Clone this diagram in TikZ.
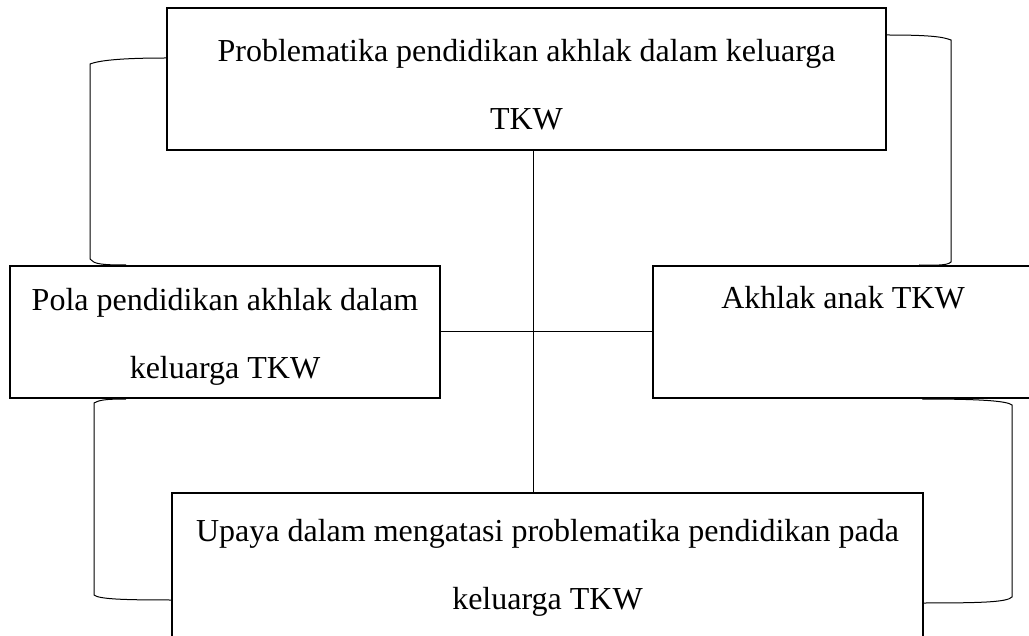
\documentclass[tikz,border=0pt]{standalone}
\usepackage{fontspec}
\setmainfont{Liberation Serif}
\newcommand{\naik}[1]{\rule{0pt}{#1}}
\tikzset{
    kotak/.style={draw,line width=2pt,align=center,inner sep=0pt,font=\fontsize{32}{68}\selectfont},
    kurung/.style={line width=1pt},
}
\begin{document}
\begin{tikzpicture}[x=1pt,y=-1pt]
        \useasboundingbox (0,0) rectangle (1029,636);
        \node[kotak,minimum width=719pt,minimum height=142pt] (T) at (526.5,79) {\naik{33pt}Problematika pendidikan akhlak dalam keluarga\\TKW};
        \node[kotak,minimum width=430pt,minimum height=132pt] (L) at (225,332) {\naik{32pt}Pola pendidikan akhlak dalam\\keluarga TKW};
        \node[kotak,minimum width=380pt,minimum height=132pt] (R) at (843,332) {\naik{42pt}Akhlak anak TKW\\\strut};
        \node[kotak,minimum width=751pt,minimum height=150pt] (B) at (547.5,568) {Upaya dalam mengatasi problematika pendidikan pada\\keluarga TKW};
        \coordinate (M) at (533,330);
        \draw[kurung] (T.south -| M)--(B.north -| M);
        \draw[kurung] (L.east)--(R.west);
        % kurung samping
        \draw[kurung] ([yshift=21pt]T.west) .. controls +(-50,0) and +(8,-3) .. (90,64) -- (90,259) .. controls +(4,5) and +(-25,0) .. ([xshift=117pt]L.north west);
        \draw[kurung] ([yshift=44pt]T.east) .. controls +(45,0) and +(-8,-3) .. (951,40) -- (951,262) .. controls +(-4,4) and +(15,0) .. ([xshift=267pt]R.north west);
        \draw[kurung] ([xshift=117pt]L.south west) .. controls +(-20,0) and +(5,-3) .. (94,403) -- (94,595) .. controls +(5,4) and +(-50,0) .. ([yshift=-32pt]B.west);
        \draw[kurung] ([xshift=270pt]R.south west) .. controls +(60,0) and +(-5,-4) .. (1012,405) -- (1012,597) .. controls +(-5,5) and +(60,0) .. ([yshift=-35pt]B.east);
    \end{tikzpicture}
\end{document}
